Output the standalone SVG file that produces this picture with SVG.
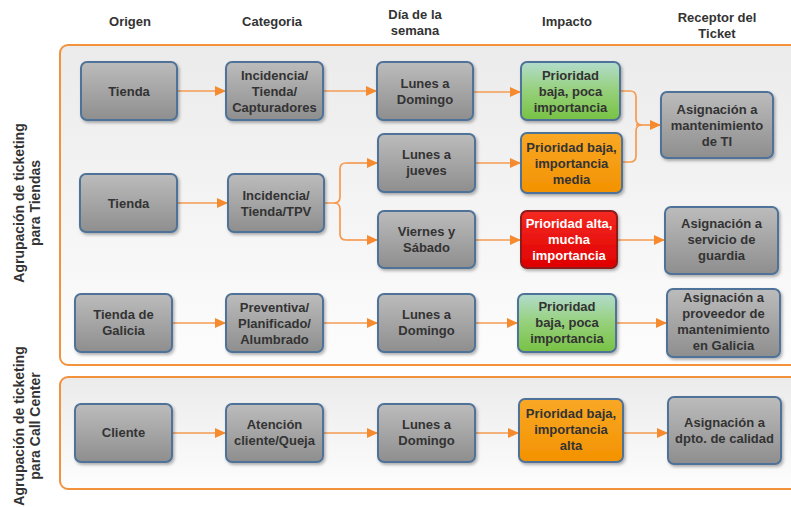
<svg xmlns="http://www.w3.org/2000/svg" width="791" height="507" viewBox="0 0 791 507">
<defs>
<linearGradient id="gGray" x1="0" y1="0" x2="0" y2="1">
<stop offset="0" stop-color="#bcbcbc"/><stop offset="1" stop-color="#8e8e8e"/>
</linearGradient>
<linearGradient id="gGreen" x1="0" y1="0" x2="0" y2="1">
<stop offset="0" stop-color="#b3dccd"/><stop offset="0.5" stop-color="#95d07a"/><stop offset="1" stop-color="#78c244"/>
</linearGradient>
<linearGradient id="gOrange" x1="0" y1="0" x2="0" y2="1">
<stop offset="0" stop-color="#f9a826"/><stop offset="1" stop-color="#f39200"/>
</linearGradient>
<linearGradient id="gRed" x1="0" y1="0" x2="0" y2="1">
<stop offset="0" stop-color="#f52a22"/><stop offset="1" stop-color="#df0000"/>
</linearGradient>
<linearGradient id="gPanel" x1="0" y1="0" x2="0" y2="1">
<stop offset="0" stop-color="#ebebeb"/><stop offset="1" stop-color="#fdfdfd"/>
</linearGradient>
<filter id="sh" x="-10%" y="-10%" width="125%" height="130%">
<feDropShadow dx="1.5" dy="2" stdDeviation="1.5" flood-color="#000" flood-opacity="0.3"/>
</filter>
<marker id="arr" markerUnits="userSpaceOnUse" markerWidth="12" markerHeight="12" refX="11" refY="6" orient="auto">
<path d="M0,1 L11,6 L0,11 Z" fill="#f58a2e"/>
</marker>
<style>
text{font-family:"Liberation Sans",Arial,sans-serif;font-weight:bold;font-size:13px;fill:#333;text-anchor:middle}
.v{font-size:14px}
.w{fill:#fff}
.panel{fill:url(#gPanel);stroke:#f3923d;stroke-width:2}
.n{stroke:#4f7298;stroke-width:2;filter:url(#sh)}
.gray{fill:url(#gGray)}
.green{fill:url(#gGreen)}
.orange{fill:url(#gOrange)}
.red{fill:url(#gRed);stroke:#8c1a1a}
.c{fill:none;stroke:#f59b52;stroke-width:1.7;marker-end:url(#arr)}
.cn{fill:none;stroke:#f59b52;stroke-width:1.7}
</style>
</defs>

<g id="headers">
<text x="130" y="26">Origen</text>
<text x="272" y="26">Categoria</text>
<text x="415" y="19">Día de la</text>
<text x="415" y="35">semana</text>
<text x="567" y="26">Impacto</text>
<text x="717" y="22">Receptor del</text>
<text x="717" y="38">Ticket</text>
</g>

<g id="panel-tiendas">
<rect class="panel" x="60" y="45" width="770" height="320" rx="8"/>
<text class="v" transform="translate(24,203) rotate(-90)">Agrupación de ticketing</text>
<text class="v" transform="translate(40,203) rotate(-90)">para Tiendas</text>
</g>
<g id="panel-callcenter">
<rect class="panel" x="60" y="377" width="770" height="112" rx="8"/>
<text class="v" transform="translate(24,426) rotate(-90)">Agrupación de ticketing</text>
<text class="v" transform="translate(40,426) rotate(-90)">para Call Center</text>
</g>

<g id="connectors">
<path class="c" d="M177,91 H226"/>
<path class="c" d="M323,91 H377"/>
<path class="c" d="M473,92 H521"/>
<path class="cn" d="M620,91 H630 Q636,91 636,97 V119 Q636,125 642,125"/>
<path class="cn" d="M622,162 H630 Q636,162 636,156 V131 Q636,125 642,125"/>
<path class="c" d="M636,125 H661"/>
<path class="c" d="M177,203 H228"/>
<path class="cn" d="M324,203 H334 Q340,203 340,197 V169 Q340,163 346,163"/>
<path class="c" d="M346,163 H378"/>
<path class="cn" d="M334,203 Q340,203 340,209 V234 Q340,240 346,240"/>
<path class="c" d="M346,240 H378"/>
<path class="c" d="M475,163 H521"/>
<path class="c" d="M475,240 H521"/>
<path class="c" d="M617,240 H665"/>
<path class="c" d="M172,323 H226"/>
<path class="c" d="M323,323 H378"/>
<path class="c" d="M475,323 H518"/>
<path class="c" d="M616,323 H667"/>
<path class="c" d="M172,433 H226"/>
<path class="c" d="M323,433 H378"/>
<path class="c" d="M475,433 H519"/>
<path class="c" d="M623,433 H668"/>
</g>

<g id="n-tienda1"><rect class="n gray" x="81" y="62" width="96" height="58" rx="6"/><text x="129" y="96">Tienda</text></g>
<g id="n-cat1"><rect class="n gray" x="226" y="62" width="97" height="58" rx="6"/><text x="274.5" y="80">Incidencia/</text><text x="274.5" y="96">Tienda/</text><text x="274.5" y="112">Capturadores</text></g>
<g id="n-dia1"><rect class="n gray" x="377" y="62" width="96" height="58" rx="6"/><text x="425" y="88">Lunes a</text><text x="425" y="104">Domingo</text></g>
<g id="n-imp1"><rect class="n green" x="521" y="62" width="99" height="58" rx="6"/><text x="570.5" y="80">Prioridad</text><text x="570.5" y="96">baja, poca</text><text x="570.5" y="112">importancia</text></g>
<g id="n-rec1"><rect class="n gray" x="661" y="92" width="112" height="66" rx="6"/><text x="717" y="114">Asignación a</text><text x="717" y="130">mantenimiento</text><text x="717" y="146">de TI</text></g>

<g id="n-dia2"><rect class="n gray" x="378" y="134" width="97" height="58" rx="6"/><text x="426.5" y="159">Lunes a</text><text x="426.5" y="175">jueves</text></g>
<g id="n-imp2"><rect class="n orange" x="521" y="133" width="101" height="60" rx="6"/><text x="571.5" y="152">Prioridad baja,</text><text x="571.5" y="168">importancia</text><text x="571.5" y="184">media</text></g>

<g id="n-tienda2"><rect class="n gray" x="80" y="174" width="97" height="58" rx="6"/><text x="128.5" y="208">Tienda</text></g>
<g id="n-cat2"><rect class="n gray" x="228" y="174" width="96" height="58" rx="6"/><text x="276" y="200">Incidencia/</text><text x="276" y="216">Tienda/TPV</text></g>

<g id="n-dia3"><rect class="n gray" x="378" y="211" width="97" height="57" rx="6"/><text x="426.5" y="236">Viernes y</text><text x="426.5" y="252">Sábado</text></g>
<g id="n-imp3"><rect class="n red" x="521" y="211" width="96" height="57" rx="6"/><text class="w" x="569" y="228">Prioridad alta,</text><text class="w" x="569" y="244">mucha</text><text class="w" x="569" y="260">importancia</text></g>
<g id="n-rec3"><rect class="n gray" x="665" y="207" width="113" height="67" rx="6"/><text x="721.5" y="228">Asignación a</text><text x="721.5" y="244">servicio de</text><text x="721.5" y="260">guardia</text></g>

<g id="n-tienda-galicia"><rect class="n gray" x="75" y="294" width="97" height="58" rx="6"/><text x="123.5" y="319">Tienda de</text><text x="123.5" y="335">Galicia</text></g>
<g id="n-cat4"><rect class="n gray" x="226" y="294" width="97" height="58" rx="6"/><text x="274.5" y="312">Preventiva/</text><text x="274.5" y="328">Planificado/</text><text x="274.5" y="344">Alumbrado</text></g>
<g id="n-dia4"><rect class="n gray" x="378" y="294" width="97" height="58" rx="6"/><text x="426.5" y="319">Lunes a</text><text x="426.5" y="335">Domingo</text></g>
<g id="n-imp4"><rect class="n green" x="518" y="294" width="98" height="58" rx="6"/><text x="567" y="311">Prioridad</text><text x="567" y="327">baja, poca</text><text x="567" y="343">importancia</text></g>
<g id="n-rec4"><rect class="n gray" x="667" y="289" width="113" height="68" rx="6"/><text x="723.5" y="302">Asignación a</text><text x="723.5" y="318">proveedor de</text><text x="723.5" y="334">mantenimiento</text><text x="723.5" y="350">en Galicia</text></g>

<g id="n-cliente"><rect class="n gray" x="75" y="404" width="97" height="58" rx="6"/><text x="123.5" y="437">Cliente</text></g>
<g id="n-cat5"><rect class="n gray" x="226" y="404" width="97" height="58" rx="6"/><text x="274.5" y="429">Atención</text><text x="274.5" y="445">cliente/Queja</text></g>
<g id="n-dia5"><rect class="n gray" x="378" y="404" width="97" height="58" rx="6"/><text x="426.5" y="429">Lunes a</text><text x="426.5" y="445">Domingo</text></g>
<g id="n-imp5"><rect class="n orange" x="519" y="399" width="104" height="63" rx="6"/><text x="571" y="418">Prioridad baja,</text><text x="571" y="434">importancia</text><text x="571" y="450">alta</text></g>
<g id="n-rec5"><rect class="n gray" x="668" y="397" width="113" height="67" rx="6"/><text x="724.5" y="427">Asignación a</text><text x="724.5" y="443">dpto. de calidad</text></g>
</svg>
